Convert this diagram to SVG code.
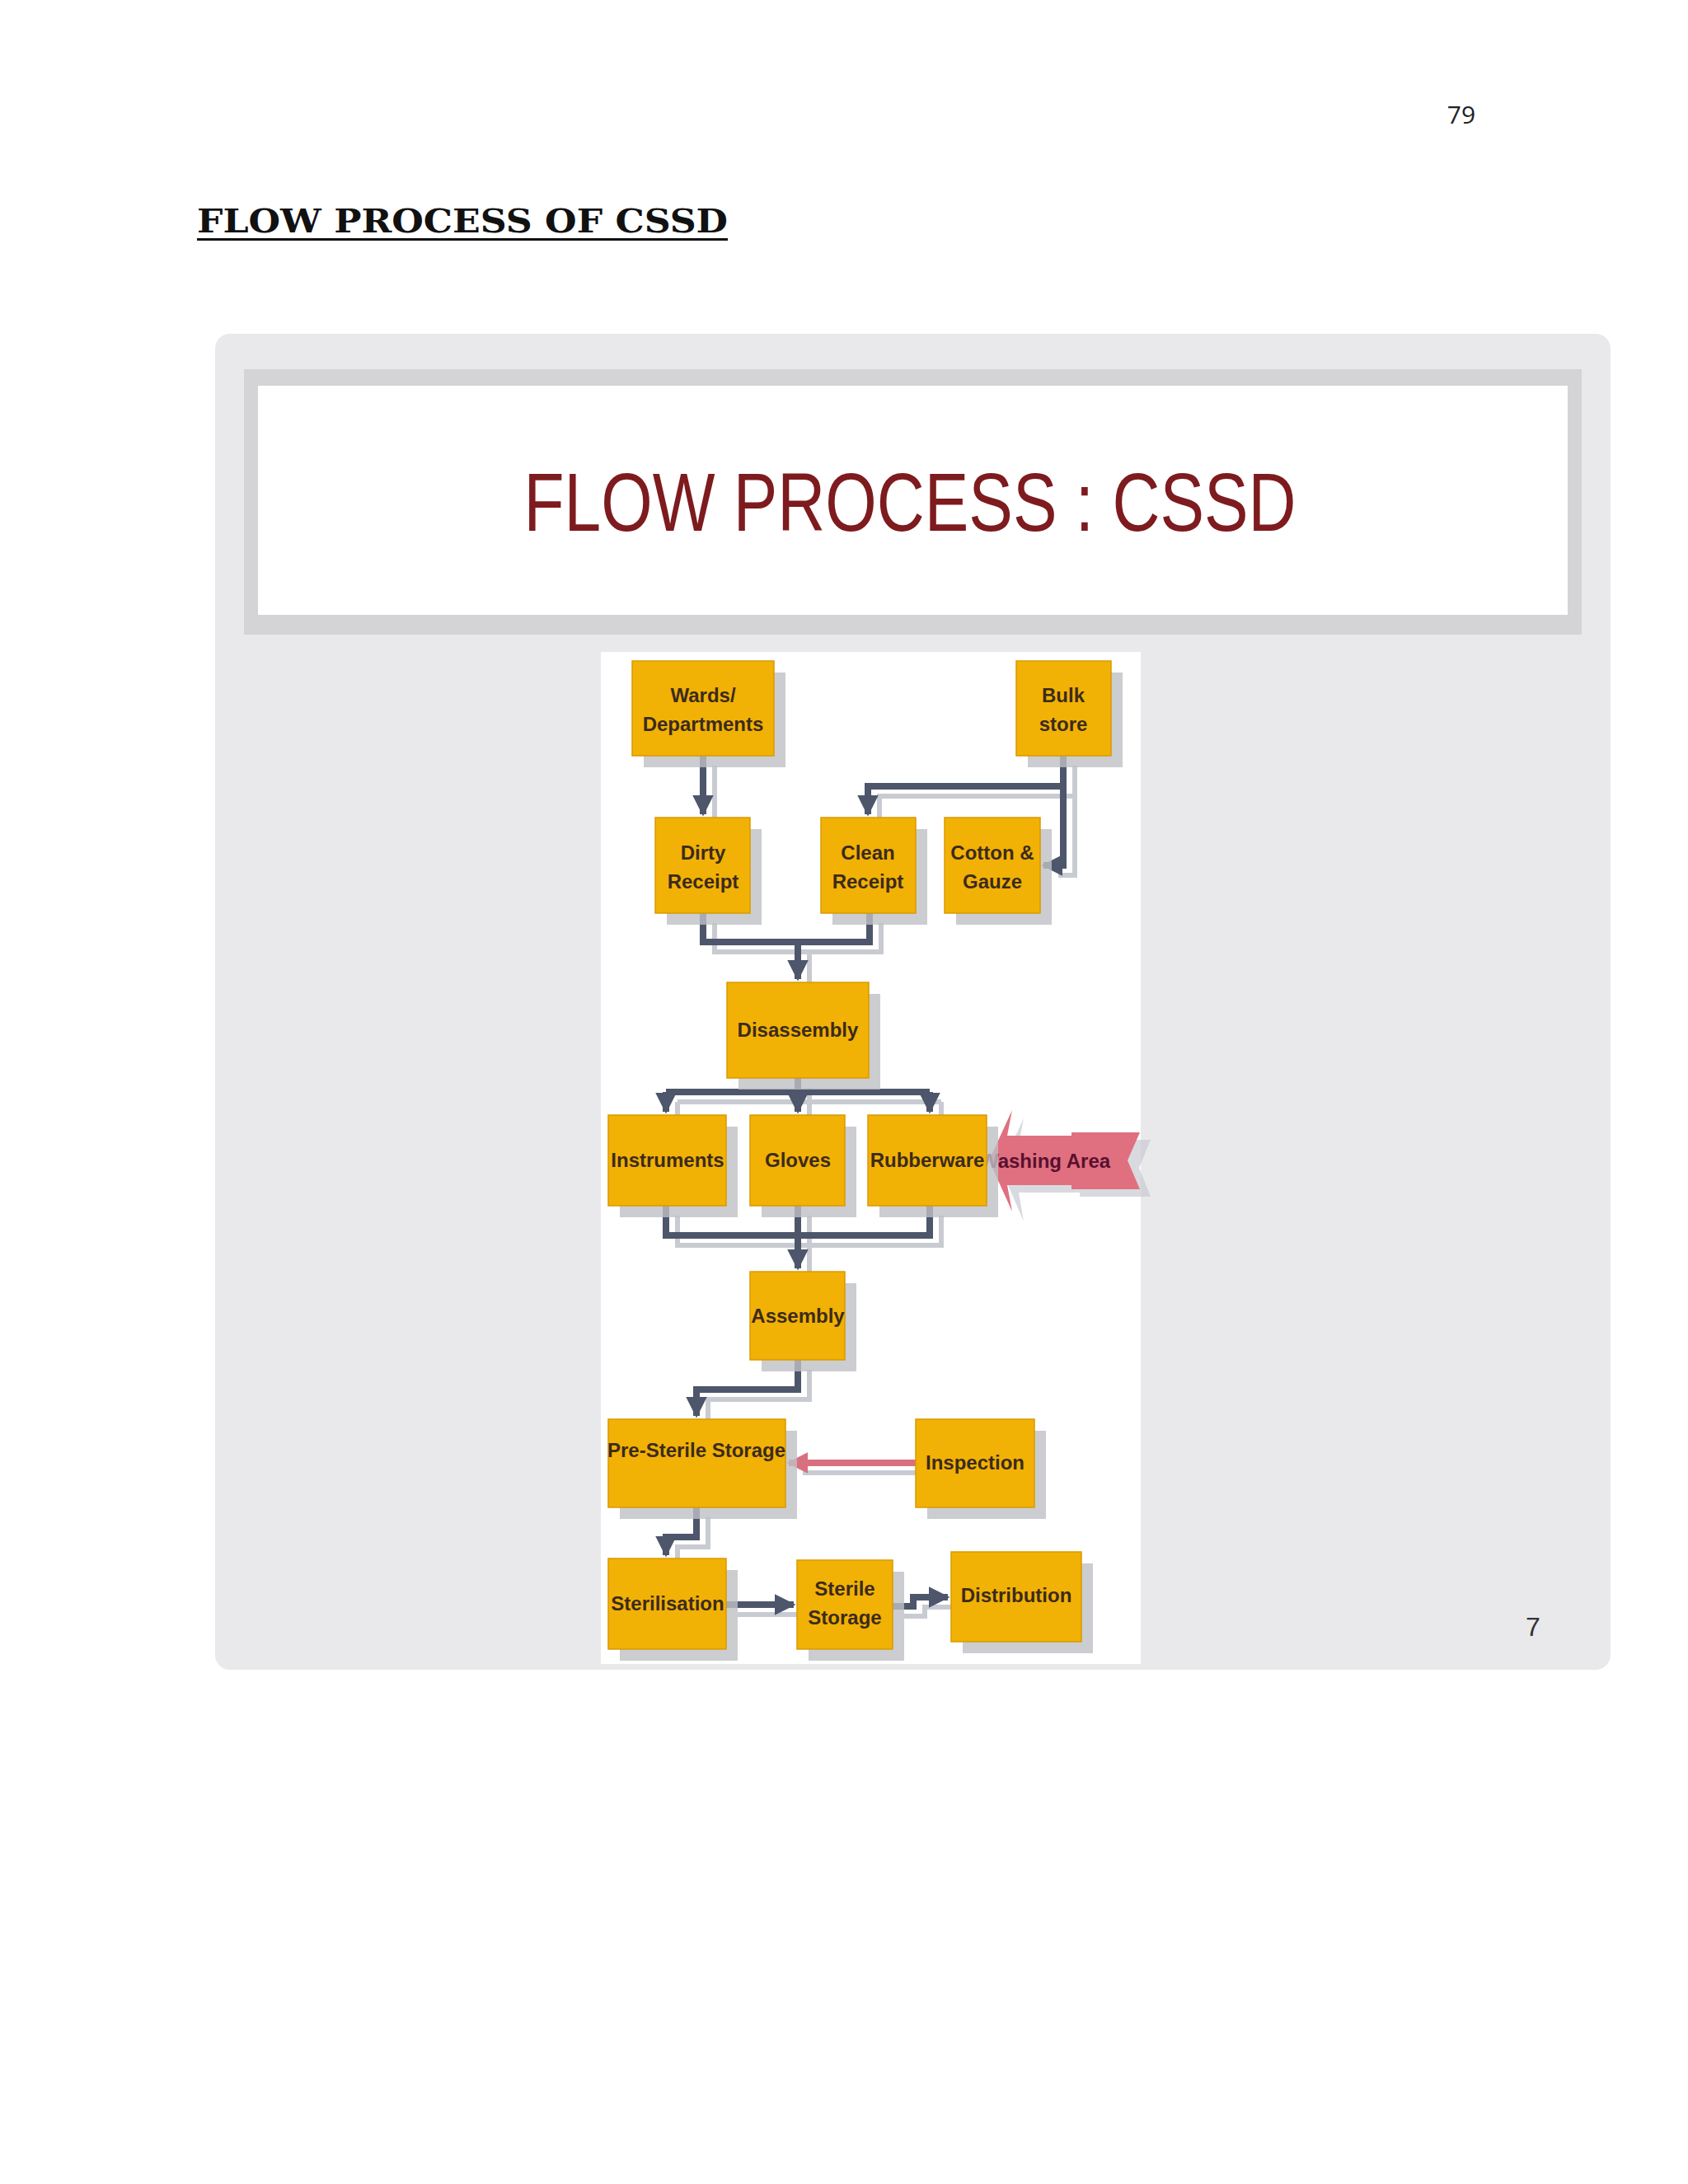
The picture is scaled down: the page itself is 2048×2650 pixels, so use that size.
<svg xmlns="http://www.w3.org/2000/svg" width="2048" height="2650" viewBox="0 0 2048 2650">
<defs>
<style>
.n{fill:#f2b105;stroke:#d99a00;stroke-width:1.5}
.sh{fill:#bfc0c6;opacity:0.8}
.t{font-family:"Liberation Sans",Arial,sans-serif;font-weight:bold;font-size:24px;fill:#3b2b1c;text-anchor:middle}
.c{fill:none;stroke:#4d566b;stroke-width:8}
.cs{fill:none;stroke:#c9cbd2;stroke-width:6}
</style>
<marker id="a" viewBox="0 0 10 10" refX="9" refY="5" markerWidth="3.2" markerHeight="3.2" orient="auto"><path d="M0,0L10,5L0,10z" fill="#4d566b"/></marker>
<marker id="ap" viewBox="0 0 10 10" refX="9" refY="5" markerWidth="3.2" markerHeight="3.2" orient="auto"><path d="M0,0L10,5L0,10z" fill="#d9707f"/></marker>
</defs>
<rect width="2048" height="2650" fill="#ffffff"/>
<text x="1773" y="150" font-family="'Open Sans',sans-serif" font-size="30" fill="#222" text-anchor="middle">79</text>
<text x="239" y="282" font-family="'DejaVu Serif',serif" font-weight="bold" font-size="40" fill="#111" textLength="644" lengthAdjust="spacingAndGlyphs">FLOW PROCESS OF CSSD</text>
<rect x="239" y="289" width="644" height="3" fill="#111"/>
<g id="slide">
<rect x="261" y="405" width="1693" height="1621" rx="18" fill="#e9e9eb"/>
<rect x="296" y="448" width="1623" height="322" fill="#d4d4d6"/>
<rect x="313" y="468" width="1589" height="278" fill="#ffffff"/>
<text x="1104" y="644" font-family="'Liberation Sans Narrow','Liberation Sans',sans-serif" font-size="100" fill="#7d1b1e" text-anchor="middle" textLength="937" lengthAdjust="spacingAndGlyphs">FLOW  PROCESS : CSSD</text>
<rect x="729" y="791" width="655" height="1228" fill="#ffffff"/>
<text x="1860" y="1985" font-family="'Liberation Sans',sans-serif" font-size="32" fill="#333" text-anchor="middle">7</text>
</g>
<g id="connectors">
<g class="cs" transform="translate(14,12)">
<path d="M853,917V985"/><path d="M1290,917V1050H1270"/><path d="M1290,954H1053V985"/>
<path d="M853,1108V1143H1055V1108"/><path d="M968,1143V1185"/>
<path d="M968,1308V1325"/><path d="M808,1325H1128"/><path d="M808,1325V1346"/><path d="M968,1325V1346"/><path d="M1128,1325V1346"/>
<path d="M808,1463V1499H1128V1463"/><path d="M968,1463V1536"/>
<path d="M968,1650V1686H845V1715"/><path d="M845,1829V1865H808V1884"/>
<path d="M881,1947H960"/><path d="M1083,1949H1108V1938H1147"/><path d="M1111,1775H960"/>
</g>
<path class="c" d="M853,917V988" marker-end="url(#a)"/>
<path class="c" d="M1290,917V1050H1266" marker-end="url(#a)"/>
<path class="c" d="M1290,954H1053V988" marker-end="url(#a)"/>
<path class="c" d="M853,1108V1143H1055V1108"/>
<path class="c" d="M968,1143V1188" marker-end="url(#a)"/>
<path class="c" d="M968,1308V1325"/>
<path class="c" d="M808,1325H1128"/>
<path class="c" d="M808,1325V1349" marker-end="url(#a)"/>
<path class="c" d="M968,1325V1349" marker-end="url(#a)"/>
<path class="c" d="M1128,1325V1349" marker-end="url(#a)"/>
<path class="c" d="M808,1463V1499H1128V1463"/>
<path class="c" d="M968,1463V1539" marker-end="url(#a)"/>
<path class="c" d="M968,1650V1686H845V1718" marker-end="url(#a)"/>
<path class="c" d="M845,1829V1865H808V1887" marker-end="url(#a)"/>
<path class="c" d="M881,1947H963" marker-end="url(#a)"/>
<path class="c" d="M1083,1949H1108V1938H1150" marker-end="url(#a)"/>
<path d="M1111,1775H957" fill="none" stroke="#d9707f" stroke-width="8" marker-end="url(#ap)"/>
</g>
<g id="washing">
<path d="M1214,1417L1242,1357L1236,1388H1310V1383H1396L1382,1417L1396,1452H1310V1447H1236L1242,1482Z" fill="#c9cbd2" opacity="0.7"/>
<path d="M1200,1408L1228,1347L1222,1378H1300V1374H1383L1368,1408L1383,1443H1300V1438H1222L1228,1470Z" fill="#e0707f"/>
<text x="1268" y="1417" font-family="'Liberation Sans',sans-serif" font-weight="bold" font-size="24" fill="#5a1030" text-anchor="middle">Washing Area</text>
</g>
<g id="wards"><rect class="sh" x="781" y="816" width="172" height="115"/><rect class="n" x="767" y="802" width="172" height="115"/><text class="t" x="853" y="852">Wards/</text><text class="t" x="853" y="887">Departments</text></g>
<g id="bulk"><rect class="sh" x="1247" y="816" width="115" height="115"/><rect class="n" x="1233" y="802" width="115" height="115"/><text class="t" x="1290" y="852">Bulk</text><text class="t" x="1290" y="887">store</text></g>
<g id="dirty"><rect class="sh" x="809" y="1006" width="115" height="116"/><rect class="n" x="795" y="992" width="115" height="116"/><text class="t" x="853" y="1043">Dirty</text><text class="t" x="853" y="1078">Receipt</text></g>
<g id="clean"><rect class="sh" x="1010" y="1006" width="115" height="116"/><rect class="n" x="996" y="992" width="115" height="116"/><text class="t" x="1053" y="1043">Clean</text><text class="t" x="1053" y="1078">Receipt</text></g>
<g id="cotton"><rect class="sh" x="1160" y="1006" width="116" height="116"/><rect class="n" x="1146" y="992" width="116" height="116"/><text class="t" x="1204" y="1043">Cotton &amp;</text><text class="t" x="1204" y="1078">Gauze</text></g>
<g id="disassembly"><rect class="sh" x="896" y="1206" width="172" height="116"/><rect class="n" x="882" y="1192" width="172" height="116"/><text class="t" x="968" y="1258">Disassembly</text></g>
<g id="instruments"><rect class="sh" x="752" y="1367" width="143" height="110"/><rect class="n" x="738" y="1353" width="143" height="110"/><text class="t" x="810" y="1416">Instruments</text></g>
<g id="gloves"><rect class="sh" x="924" y="1367" width="115" height="110"/><rect class="n" x="910" y="1353" width="115" height="110"/><text class="t" x="968" y="1416">Gloves</text></g>
<g id="rubberware"><rect class="sh" x="1067" y="1367" width="144" height="110"/><rect class="n" x="1053" y="1353" width="144" height="110"/><text class="t" x="1125" y="1416">Rubberware</text></g>
<g id="assembly"><rect class="sh" x="924" y="1557" width="115" height="107"/><rect class="n" x="910" y="1543" width="115" height="107"/><text class="t" x="968" y="1605">Assembly</text></g>
<g id="presterile"><rect class="sh" x="752" y="1736" width="215" height="107"/><rect class="n" x="738" y="1722" width="215" height="107"/><text class="t" x="845" y="1768">Pre-Sterile Storage</text></g>
<g id="inspection"><rect class="sh" x="1125" y="1736" width="144" height="107"/><rect class="n" x="1111" y="1722" width="144" height="107"/><text class="t" x="1183" y="1783">Inspection</text></g>
<g id="sterilisation"><rect class="sh" x="752" y="1905" width="143" height="110"/><rect class="n" x="738" y="1891" width="143" height="110"/><text class="t" x="810" y="1954">Sterilisation</text></g>
<g id="sterilestorage"><rect class="sh" x="981" y="1907" width="116" height="108"/><rect class="n" x="967" y="1893" width="116" height="108"/><text class="t" x="1025" y="1936">Sterile</text><text class="t" x="1025" y="1971">Storage</text></g>
<g id="distribution"><rect class="sh" x="1168" y="1897" width="158" height="109"/><rect class="n" x="1154" y="1883" width="158" height="109"/><text class="t" x="1233" y="1944">Distribution</text></g>
</svg>
